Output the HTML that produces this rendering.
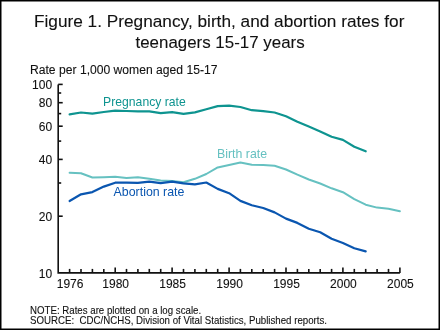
<!DOCTYPE html>
<html><head><meta charset="utf-8"><style>
html,body{margin:0;padding:0;background:#fff;}
body{width:440px;height:330px;overflow:hidden;position:relative;}
svg{position:absolute;left:0;top:0;filter:blur(0.35px);}
text{font-family:"Liberation Sans",sans-serif;fill:#111;stroke-width:0.1px;}
</style></head><body>
<svg width="440" height="330" viewBox="0 0 440 330">
<rect x="0.75" y="0.75" width="438.5" height="328.5" fill="#fff" stroke="#000" stroke-width="1.5"/>
<text id="t1" x="33.99" y="27.3" font-size="17" style="fill:#111;stroke:#111" textLength="370.40" lengthAdjust="spacingAndGlyphs">Figure 1. Pregnancy, birth, and abortion rates for</text>
<text id="t2" x="135.50" y="47.7" font-size="17" style="fill:#111;stroke:#111" textLength="169.11" lengthAdjust="spacingAndGlyphs">teenagers 15-17 years</text>
<text id="rate" x="29.99" y="73.8" font-size="12" style="fill:#111;stroke:#111" textLength="187.49" lengthAdjust="spacingAndGlyphs">Rate per 1,000 women aged 15-17</text>
<text id="preg" x="103.11" y="105.5" font-size="12.9" style="fill:#0e9490;stroke:none" textLength="82.61" lengthAdjust="spacingAndGlyphs">Pregnancy rate</text>
<text id="birth" x="217.04" y="157.8" font-size="12.9" style="fill:#66c1c1;stroke:none" textLength="50.06" lengthAdjust="spacingAndGlyphs">Birth rate</text>
<text id="abort" x="113.58" y="196.2" font-size="12.9" style="fill:#0a56b0;stroke:none" textLength="70.85" lengthAdjust="spacingAndGlyphs">Abortion rate</text>
<text id="note" x="30.00" y="313.6" font-size="10.3" style="fill:#111;stroke:#111" textLength="171.11" lengthAdjust="spacingAndGlyphs">NOTE: Rates are plotted on a log scale.</text>
<text id="source" x="30.00" y="324.1" font-size="10.3" style="fill:#111;stroke:#111" textLength="297.05" lengthAdjust="spacingAndGlyphs">SOURCE:  CDC/NCHS, Division of Vital Statistics, Published reports.</text>
<g font-size="12" style="stroke:#111"><text x="52.1" y="277.6" text-anchor="end">10</text><text x="52.1" y="220.9" text-anchor="end">20</text><text x="52.1" y="164.1" text-anchor="end">40</text><text x="52.1" y="130.9" text-anchor="end">60</text><text x="52.1" y="107.4" text-anchor="end">80</text><text x="52.1" y="89.1" text-anchor="end">100</text><text x="70.1" y="287.9" text-anchor="middle">1976</text><text x="115.7" y="287.9" text-anchor="middle">1980</text><text x="172.6" y="287.9" text-anchor="middle">1985</text><text x="229.6" y="287.9" text-anchor="middle">1990</text><text x="286.5" y="287.9" text-anchor="middle">1995</text><text x="343.4" y="287.9" text-anchor="middle">2000</text><text x="400.4" y="287.9" text-anchor="middle">2005</text></g>
<g stroke="#111" stroke-width="1.6" fill="none">
<polyline points="58.2,84.4 58.2,272.9 399.9,272.9"/>
<line x1="58.2" y1="216.2" x2="62.7" y2="216.2"/><line x1="58.2" y1="183.0" x2="61.2" y2="183.0"/><line x1="58.2" y1="159.4" x2="62.7" y2="159.4"/><line x1="58.2" y1="141.1" x2="61.2" y2="141.1"/><line x1="58.2" y1="126.2" x2="62.7" y2="126.2"/><line x1="58.2" y1="113.6" x2="61.2" y2="113.6"/><line x1="58.2" y1="102.7" x2="62.7" y2="102.7"/><line x1="58.2" y1="93.0" x2="61.2" y2="93.0"/><line x1="58.2" y1="84.4" x2="62.7" y2="84.4"/><line x1="69.6" y1="272.9" x2="69.6" y2="268.9"/><line x1="81.0" y1="272.9" x2="81.0" y2="268.9"/><line x1="92.4" y1="272.9" x2="92.4" y2="268.9"/><line x1="103.8" y1="272.9" x2="103.8" y2="268.9"/><line x1="115.2" y1="272.9" x2="115.2" y2="267.4"/><line x1="126.5" y1="272.9" x2="126.5" y2="268.9"/><line x1="137.9" y1="272.9" x2="137.9" y2="268.9"/><line x1="149.3" y1="272.9" x2="149.3" y2="268.9"/><line x1="160.7" y1="272.9" x2="160.7" y2="268.9"/><line x1="172.1" y1="272.9" x2="172.1" y2="267.4"/><line x1="183.5" y1="272.9" x2="183.5" y2="268.9"/><line x1="194.9" y1="272.9" x2="194.9" y2="268.9"/><line x1="206.3" y1="272.9" x2="206.3" y2="268.9"/><line x1="217.7" y1="272.9" x2="217.7" y2="268.9"/><line x1="229.1" y1="272.9" x2="229.1" y2="267.4"/><line x1="240.4" y1="272.9" x2="240.4" y2="268.9"/><line x1="251.8" y1="272.9" x2="251.8" y2="268.9"/><line x1="263.2" y1="272.9" x2="263.2" y2="268.9"/><line x1="274.6" y1="272.9" x2="274.6" y2="268.9"/><line x1="286.0" y1="272.9" x2="286.0" y2="267.4"/><line x1="297.4" y1="272.9" x2="297.4" y2="268.9"/><line x1="308.8" y1="272.9" x2="308.8" y2="268.9"/><line x1="320.2" y1="272.9" x2="320.2" y2="268.9"/><line x1="331.6" y1="272.9" x2="331.6" y2="268.9"/><line x1="342.9" y1="272.9" x2="342.9" y2="267.4"/><line x1="354.3" y1="272.9" x2="354.3" y2="268.9"/><line x1="365.7" y1="272.9" x2="365.7" y2="268.9"/><line x1="377.1" y1="272.9" x2="377.1" y2="268.9"/><line x1="388.5" y1="272.9" x2="388.5" y2="268.9"/><line x1="399.9" y1="272.9" x2="399.9" y2="267.4"/>
</g>
<g fill="none" stroke-width="2.2" stroke-linejoin="round" stroke-linecap="round">
<polyline stroke="#0e9490" points="69.6,114.4 81.0,112.5 92.4,113.7 103.8,112.0 115.2,110.6 126.5,111.0 137.9,111.3 149.3,111.3 160.7,113.1 172.1,112.2 183.5,113.9 194.9,112.4 206.3,109.3 217.7,106.1 229.1,105.6 240.4,107.0 251.8,110.2 263.2,111.2 274.6,112.5 286.0,116.3 297.4,121.8 308.8,126.5 320.2,131.4 331.6,136.8 342.9,139.9 354.3,146.7 365.7,151.3"/>
<polyline stroke="#66c1c1" stroke-width="2.0" points="69.6,172.8 81.0,173.3 92.4,177.5 103.8,177.2 115.2,176.7 126.5,178.0 137.9,177.2 149.3,178.8 160.7,180.6 172.1,181.0 183.5,182.3 194.9,178.8 206.3,174.0 217.7,167.4 229.1,165.0 240.4,162.6 251.8,164.8 263.2,165.0 274.6,165.7 286.0,169.5 297.4,174.7 308.8,179.5 320.2,183.5 331.6,188.3 342.9,192.2 354.3,199.2 365.7,204.7 377.1,207.6 388.5,208.7 399.9,211.3"/>
<polyline stroke="#0a56b0" points="69.6,201.0 81.0,194.3 92.4,192.1 103.8,186.6 115.2,182.7 126.5,182.7 137.9,182.9 149.3,181.6 160.7,183.2 172.1,181.7 183.5,183.4 194.9,184.3 206.3,182.5 217.7,188.9 229.1,193.2 240.4,200.9 251.8,205.3 263.2,208.0 274.6,212.4 286.0,218.6 297.4,222.9 308.8,228.8 320.2,232.3 331.6,238.8 342.9,243.0 354.3,248.2 365.7,251.4"/>
</g>
</svg>
</body></html>
